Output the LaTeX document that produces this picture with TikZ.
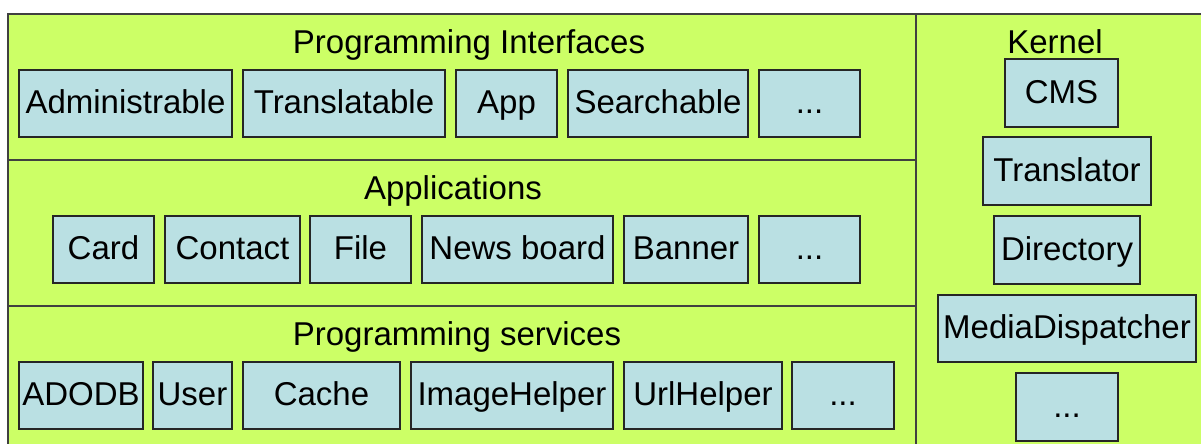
\documentclass[tikz,border=0pt]{standalone}
\usepackage{fontspec}
\setmainfont{Liberation Sans}
\definecolor{panelgreen}{RGB}{204,255,102}
\definecolor{cellblue}{RGB}{186,224,227}
\definecolor{rulegray}{RGB}{64,64,64}
\tikzset{
  cellbox/.style={draw=black!85, fill=cellblue, line width=1.2pt, inner sep=0pt,
    text height=23.6pt, text depth=3.6pt, font=\fontsize{33}{40}\selectfont},
  layertitle/.style={anchor=base, inner sep=0pt, font=\fontsize{33}{40}\selectfont},
  divider/.style={draw=rulegray, line width=1.3pt}
}
% \blk{name}{x1}{y1}{x2}{y2}{text}: a component box spanning the given corners
\newcommand\blk[6]{%
  \node[cellbox, minimum width={(#4)-(#2)}, minimum height={(#5)-(#3)}]
    (#1) at ({((#2)+(#4))/2},{((#3)+(#5))/2}) {#6};}
\begin{document}
\begin{tikzpicture}[x=1pt, y=-1pt]
  \useasboundingbox (0,0) rectangle (1201,444);
  \clip (0,0) rectangle (1201,444);
  % layer panels
  \fill[panelgreen] (8,14) rectangle (1220,460);
  \draw[divider] (8,460) -- (8,14) -- (1220,14);
  \draw[divider] (916,14) -- (916,460);
  \draw[divider] (8,160) -- (916,160);
  \draw[divider] (8,306) -- (916,306);

  % layer titles
  \node[layertitle] (tpi)  at (469,53)  {Programming Interfaces};
  \node[layertitle] (tapp) at (453,199) {Applications};
  \node[layertitle] (tps)  at (457,345) {Programming services};
  \node[layertitle] (tk)   at (1055,53) {Kernel};

  % programming interfaces
  \blk{adm}{19}{70}{232}{137}{Administrable}
  \blk{trl}{243}{70}{445}{137}{Translatable}
  \blk{app}{456}{70}{557}{137}{App}
  \blk{srch}{568}{70}{748}{137}{Searchable}
  \blk{pimore}{759}{70}{860}{137}{...}

  % applications
  \blk{card}{53}{216}{154}{283}{Card}
  \blk{cont}{165}{216}{300}{283}{Contact}
  \blk{file}{310}{216}{411}{283}{File}
  \blk{news}{422}{216}{613}{283}{News board}
  \blk{ban}{624}{216}{748}{283}{Banner}
  \blk{appmore}{759}{216}{860}{283}{...}

  % programming services
  \blk{ado}{19}{362}{143}{429}{ADODB}
  \blk{user}{153}{362}{232}{429}{User}
  \blk{cache}{243}{362}{400}{429}{Cache}
  \blk{img}{411}{362}{613}{429}{ImageHelper}
  \blk{url}{624}{362}{782}{429}{UrlHelper}
  \blk{psmore}{792}{362}{894}{429}{...}

  % kernel
  \blk{cms}{1005}{59}{1118}{127}{CMS}
  \blk{tor}{983}{137}{1151}{205}{Translator}
  \blk{dir}{994}{216}{1140}{284}{Directory}
  \blk{media}{938}{295}{1196}{362}{MediaDispatcher}
  \blk{kmore}{1016}{373}{1118}{441}{...}
\end{tikzpicture}
\end{document}
